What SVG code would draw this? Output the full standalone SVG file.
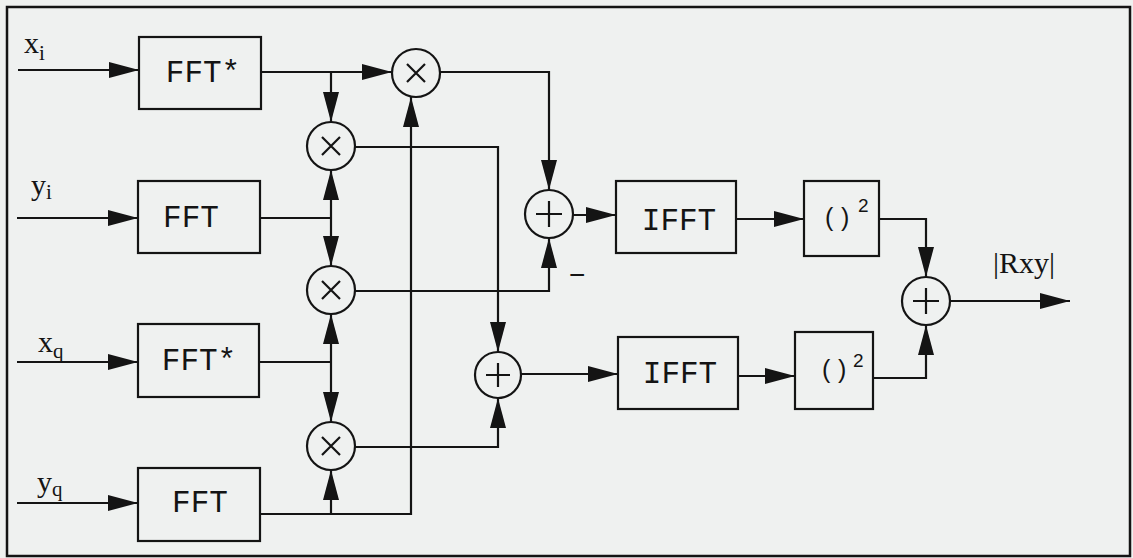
<svg xmlns="http://www.w3.org/2000/svg" width="1133" height="558" viewBox="0 0 1133 558">
<defs>
<marker id="arr" markerUnits="userSpaceOnUse" markerWidth="30" markerHeight="16" refX="30" refY="8" orient="auto">
<path d="M0,0 L30,8 L0,16 z" fill="#141414"/>
</marker>
<style>
.box{fill:none;stroke:#141414;stroke-width:2.2}
.op{fill:none;stroke:#141414;stroke-width:2.2}
.sym{stroke:#141414;stroke-width:2.2;fill:none}
.wire{fill:none;stroke:#141414;stroke-width:2.2}
.mono{font-family:"Liberation Mono","DejaVu Sans Mono",monospace;font-size:31px;fill:#141414}
.lab{font-family:"Liberation Serif","DejaVu Serif",serif;font-size:30px;fill:#141414}
.sq{font-family:"Liberation Sans","DejaVu Sans",sans-serif;font-size:25px;fill:#141414}
.sup{font-family:"Liberation Sans","DejaVu Sans",sans-serif;font-size:19px;fill:#141414}
</style>
</defs>
<rect x="0" y="0" width="1133" height="558" fill="#eff1f0"/>
<rect x="7" y="7" width="1123" height="549" fill="none" stroke="#141414" stroke-width="2.5"/>

<g id="label-xi"><text class="lab" x="24" y="53">x<tspan font-size="21" dy="7">i</tspan></text></g>
<g id="label-yi"><text class="lab" x="31" y="195">y<tspan font-size="21" dy="4">i</tspan></text></g>
<g id="label-xq"><text class="lab" x="38" y="352">x<tspan font-size="21" dy="6">q</tspan></text></g>
<g id="label-yq"><text class="lab" x="37" y="492">y<tspan font-size="21" dy="4">q</tspan></text></g>

<g id="fft-xi"><rect class="box" x="139" y="37" width="122" height="72"/><text class="mono" x="203" y="82" text-anchor="middle">FFT*</text></g>
<g id="fft-yi"><rect class="box" x="138" y="181" width="122" height="72"/><text class="mono" x="191" y="227" text-anchor="middle">FFT</text></g>
<g id="fft-xq"><rect class="box" x="138" y="324" width="121" height="73"/><text class="mono" x="199" y="370" text-anchor="middle">FFT*</text></g>
<g id="fft-yq"><rect class="box" x="138" y="468" width="122" height="73"/><text class="mono" x="200" y="512" text-anchor="middle">FFT</text></g>

<g id="mul1"><circle class="op" cx="416" cy="73" r="24"/><path class="sym" d="M407,64 L425,82 M425,64 L407,82"/></g>
<g id="mul2"><circle class="op" cx="331" cy="146" r="24"/><path class="sym" d="M322,137 L340,155 M340,137 L322,155"/></g>
<g id="mul3"><circle class="op" cx="331" cy="290" r="24"/><path class="sym" d="M322,281 L340,299 M340,281 L322,299"/></g>
<g id="mul4"><circle class="op" cx="331" cy="446" r="24"/><path class="sym" d="M322,437 L340,455 M340,437 L322,455"/></g>

<g id="add1"><circle class="op" cx="549" cy="214" r="24"/><path class="sym" d="M536,214 H562 M549,201 V227"/></g>
<g id="add1-sign"><text x="569" y="284" font-family="Liberation Sans, sans-serif" font-size="28" fill="#141414">−</text></g>
<g id="add2"><circle class="op" cx="498" cy="375" r="23"/><path class="sym" d="M486,375 H510 M498,363 V387"/></g>
<g id="add3"><circle class="op" cx="926" cy="301" r="24"/><path class="sym" d="M913,301 H939 M926,288 V314"/></g>

<g id="ifft1"><rect class="box" x="616" y="181" width="120" height="72"/><text class="mono" x="679" y="230" text-anchor="middle">IFFT</text></g>
<g id="ifft2"><rect class="box" x="618" y="337" width="120" height="72"/><text class="mono" x="680" y="383" text-anchor="middle">IFFT</text></g>

<g id="sq1"><rect class="box" x="804" y="181" width="75" height="75"/><text class="sq" x="825" y="226">(</text><text class="sq" x="841" y="226">)</text><text class="sup" x="858" y="212">2</text></g>
<g id="sq2"><rect class="box" x="795" y="332" width="78" height="77"/><text class="sq" x="822" y="378">(</text><text class="sq" x="838" y="378">)</text><text class="sup" x="853" y="367">2</text></g>

<g id="out-label"><text class="lab" x="993" y="273">|Rxy|</text></g>

<g id="connectors">
<path class="wire" d="M18,70 H139" marker-end="url(#arr)"/>
<path class="wire" d="M17,218 H138" marker-end="url(#arr)"/>
<path class="wire" d="M17,362 H138" marker-end="url(#arr)"/>
<path class="wire" d="M17,503 H138" marker-end="url(#arr)"/>
<path class="wire" d="M261,72 H392" marker-end="url(#arr)"/>
<path class="wire" d="M331,72 V122" marker-end="url(#arr)"/>
<path class="wire" d="M260,218 H331"/>
<path class="wire" d="M331,218 V170" marker-end="url(#arr)"/>
<path class="wire" d="M331,218 V266" marker-end="url(#arr)"/>
<path class="wire" d="M259,362 H331"/>
<path class="wire" d="M331,362 V314" marker-end="url(#arr)"/>
<path class="wire" d="M331,362 V422" marker-end="url(#arr)"/>
<path class="wire" d="M260,514 H411 V97" marker-end="url(#arr)"/>
<path class="wire" d="M331,514 V470" marker-end="url(#arr)"/>
<path class="wire" d="M440,72 H549 V190" marker-end="url(#arr)"/>
<path class="wire" d="M355,147 H498 V352" marker-end="url(#arr)"/>
<path class="wire" d="M355,291 H549 V238" marker-end="url(#arr)"/>
<path class="wire" d="M355,447 H498 V398" marker-end="url(#arr)"/>
<path class="wire" d="M573,215 H616" marker-end="url(#arr)"/>
<path class="wire" d="M736,219 H804" marker-end="url(#arr)"/>
<path class="wire" d="M879,219 H926 V277" marker-end="url(#arr)"/>
<path class="wire" d="M521,374 H618" marker-end="url(#arr)"/>
<path class="wire" d="M738,376 H795" marker-end="url(#arr)"/>
<path class="wire" d="M873,378 H926 V325" marker-end="url(#arr)"/>
<path class="wire" d="M950,301 H1070" marker-end="url(#arr)"/>
</g>
</svg>
